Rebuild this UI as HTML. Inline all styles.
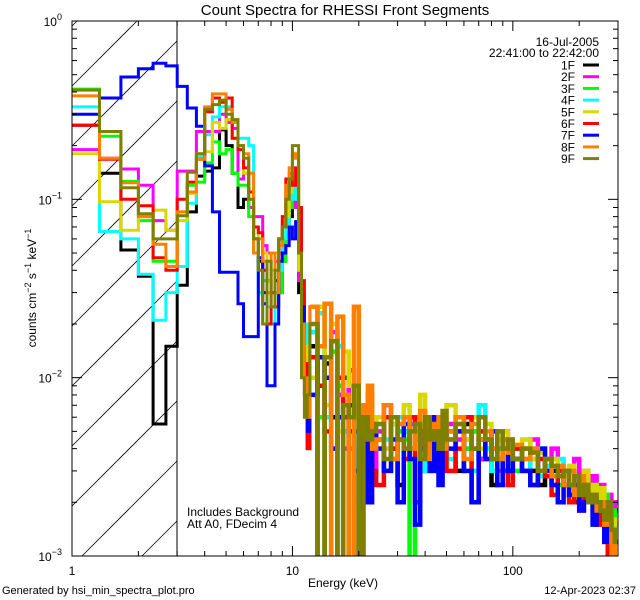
<!DOCTYPE html>
<html><head><meta charset="utf-8"><style>
html,body{margin:0;padding:0;background:#fff;overflow:hidden;width:640px;height:600px;}
svg{display:block;font-family:"Liberation Sans",sans-serif;}
</style></head><body>
<svg id="chart" width="640" height="600" viewBox="0 0 640 600" xmlns="http://www.w3.org/2000/svg">
<defs>
<clipPath id="plotclip"><rect x="72" y="21" width="546" height="535"/></clipPath>
</defs>
<rect width="640" height="600" fill="#fff"/>
<text x="345" y="15" font-size="15" text-anchor="middle">Count Spectra for RHESSI Front Segments</text>
<g id="hatch" stroke="#000" stroke-width="0.8"></g>
<line x1="177" y1="21" x2="177" y2="556" stroke="#000" stroke-width="1"/>
<g id="series" clip-path="url(#plotclip)"></g>
<g id="axes" stroke="#000" stroke-width="1"></g>
<g id="labels" font-size="12"></g>
<text transform="translate(36,288) rotate(-90)" font-size="12" text-anchor="middle">counts cm<tspan dy="-5" font-size="9">−2</tspan><tspan dy="5"> s</tspan><tspan dy="-5" font-size="9">−1</tspan><tspan dy="5"> keV</tspan><tspan dy="-5" font-size="9">−1</tspan></text>
<text x="343" y="587" font-size="12" text-anchor="middle">Energy (keV)</text>
<text x="187" y="516" font-size="12">Includes Background</text>
<text x="187" y="528" font-size="12">Att A0, FDecim 4</text>
<text x="2" y="594" font-size="11">Generated by hsi_min_spectra_plot.pro</text>
<text x="636" y="594" font-size="11" text-anchor="end">12-Apr-2023 02:37</text>
<text x="599" y="46" font-size="12" text-anchor="end">16-Jul-2005</text>
<text x="599" y="57" font-size="12" text-anchor="end">22:41:00 to 22:42:00</text>
<g id="legend" font-size="12"></g>
</svg>
<script>
// Values in units of 1e-4 counts cm^-2 s^-1 keV^-1
const seriesNames = ["1F","2F","3F","4F","5F","6F","7F","8F","9F"];
const seriesColors = ["#000000","#ff00ff","#00ff00","#00ffff","#d8d800","#ff0000","#0000ff","#ff8000","#808000"];
const lowStart = 1.0, lowStep = 1/3, lowEnd = 12;
const highEdgeGroups = [[12,24,1],[24,50,2],[50,100,5],[100,300,10]];
const s1 = [2600,1400,520,370,55,150,330,850,1350,1440,1500,2450,2000,1400,900,1000,900,600,450,300,350,300,350,300,450,600,800,1100,900,300,150,80,40,
 150,5,120,60,4,100,70,50,30,60,40,50,45,60,35,25,50,40,55,45,30,50,40,35,45,50,30,55,40,35,45,25,40,45,30,35,40,30,25,35,30,28,25,30,20,25,22,28,20,18,22,15,8,20,18];
const s2 = [1900,1700,1480,1200,760,670,1440,1440,2400,2400,2400,3000,2700,2500,1300,1400,900,800,800,550,500,500,450,500,700,900,1200,1000,900,350,300,200,60,
 250,150,60,180,80,40,110,60,70,40,80,30,50,70,40,60,35,55,45,50,40,60,45,50,40,55,45,40,50,35,45,40,30,50,35,40,35,45,30,35,40,28,30,25,35,22,30,25,28,20,25,18,22,15,20];
const s3 = [4150,2260,1260,760,450,450,850,1200,1250,1600,2100,1800,1900,1400,1200,1200,800,500,400,350,300,300,250,300,450,650,900,1300,1000,400,200,120,50,
 180,60,3,140,90,50,40,4,70,50,30,60,40,30,55,50,45,2,60,40,55,35,50,45,30,45,55,40,50,45,35,50,40,30,45,30,40,35,40,28,35,25,30,30,25,28,20,22,25,20,18,22,15,18,12];
const s4 = [3300,660,600,380,210,300,420,950,1730,2300,2900,3300,3300,2800,2200,2200,2000,600,300,200,250,200,300,400,700,600,1000,1200,1000,600,300,200,50,
 180,230,60,40,150,50,7,60,3,70,40,50,55,45,35,60,50,40,45,30,55,40,60,35,45,35,50,45,30,70,40,30,35,25,40,35,30,40,28,32,25,35,30,22,28,25,20,24,18,20,22,16,18,14,15];
const s5 = [1800,970,670,800,870,670,760,1080,1800,1850,2700,2500,2800,2200,1900,1400,1000,700,600,500,350,400,500,600,750,800,1100,1300,1200,400,200,150,70,
 100,250,70,200,50,140,90,60,50,40,80,45,60,40,55,45,70,50,55,80,40,60,50,45,55,70,50,45,60,40,55,35,45,50,40,40,45,35,38,30,35,30,28,32,25,28,30,22,25,20,24,18,20,16,15];
const s6 = [2600,1680,1000,920,470,400,1000,1250,1680,3100,3700,3500,3700,2200,1900,1500,1100,700,650,400,200,300,250,600,800,1300,1400,1200,1500,900,350,120,40,
 130,90,50,3,100,60,4,30,5,45,55,30,25,60,40,45,35,60,20,50,40,55,30,45,50,30,40,60,20,50,45,40,35,30,25,40,30,25,35,28,22,30,25,20,28,18,25,20,22,15,20,12,6,10,8];
const s7 = [3000,3700,4850,5400,5800,5600,4300,3250,2570,1540,850,390,390,390,260,170,170,170,470,260,90,90,200,450,500,550,700,600,750,500,250,100,50,
 80,130,100,40,60,70,50,30,20,60,20,50,40,30,45,20,55,35,15,40,50,30,60,25,45,40,50,30,20,45,35,50,25,40,30,35,30,25,40,30,25,20,30,22,25,18,20,22,15,18,20,12,15,10,6];
const s8 = [3800,1700,1240,800,560,420,850,1100,1680,3300,3900,3900,3200,2700,2000,1800,1400,500,600,450,300,500,300,550,700,1200,1500,1800,1700,500,200,100,60,
 250,150,260,5,220,80,4,250,70,50,90,40,45,70,35,55,60,40,50,65,35,55,45,60,40,50,60,35,55,45,50,40,35,45,38,42,35,40,30,35,28,32,25,30,22,28,25,20,22,18,20,15,18,5,12];
const s9 = [4100,2400,1160,830,600,600,810,1420,1800,3200,3400,3600,3000,2800,2000,1700,1000,600,400,200,450,250,400,600,700,1000,1300,2000,2000,500,100,60,80,
 200,6,130,160,4,70,60,90,4,60,45,50,55,35,60,45,40,50,55,35,60,45,50,40,65,45,55,50,40,60,45,35,50,40,45,35,40,38,30,35,32,28,30,25,28,22,25,20,22,20,18,16,20,14,12];
const seriesValues = [s1,s2,s3,s4,s5,s6,s7,s8,s9];
const valueScale = 1e-4;
const xTickLabels = ["1","10","100"];
const yTickExps = ["0","−1","−2","−3"];

const X0=72,X1=618,Y0=21,Y1=556, xmin=1,xmax=300, ymin=1e-3,ymax=1;
function xs(e){return X0+(Math.log10(e)-Math.log10(xmin))/(Math.log10(xmax)-Math.log10(xmin))*(X1-X0);}
function ys(v){v=Math.max(v,1e-4);return Y0+(Math.log10(ymax)-Math.log10(v))/(Math.log10(ymax)-Math.log10(ymin))*(Y1-Y0);}
const NS="http://www.w3.org/2000/svg";
function mk(t,a,p){const e=document.createElementNS(NS,t);for(const k in a)e.setAttribute(k,a[k]);p.appendChild(e);return e;}

const edges=[];
for(let i=0;lowStart+i*lowStep<lowEnd-1e-6;i++)edges.push(lowStart+i*lowStep);
const nLow=edges.length;
for(const g of highEdgeGroups){for(let e=g[0];e<g[1]-1e-6;e+=g[2])edges.push(e);}
edges.push(300);

// hatching: 45° lines clipped analytically to x 72..177, y 21..556
const hg=document.getElementById('hatch');
const HX1=177;
for(let k=-2;k<12;k++){
  const c=Y1+10-k*60; // line: y = c - (x - X0)
  let xa=X0, ya=c;
  if(ya>Y1){xa=X0+(ya-Y1);ya=Y1;}
  let xb=HX1, yb=c-(HX1-X0);
  if(yb<Y0){xb=X0+(c-Y0);yb=Y0;}
  if(xa>=xb||xa>HX1||xb<X0)continue;
  const ln=mk('line',{x1:xa,y1:ya,x2:xb,y2:yb},hg);
  
  
}

const sg=document.getElementById('series');
function stepPath(vals,i0,i1){
  let d='';
  for(let i=i0;i<i1;i++){
    const y=Math.min(ys(vals[i]*valueScale),Y1+2).toFixed(1);
    const xa=xs(edges[i]).toFixed(1), xb=xs(edges[i+1]).toFixed(1);
    d+=(i===i0?'M':'L')+xa+','+y+'L'+xb+','+y;
  }
  return d;
}
seriesValues.forEach((vals,si)=>{
  const n=Math.min(vals.length,edges.length-1);
  const p=mk('path',{d:stepPath(vals,0,Math.min(nLow+1,n)),fill:'none',stroke:seriesColors[si],'stroke-width':3},sg);
  
  
  const q=mk('path',{d:stepPath(vals,nLow,n),fill:'none',stroke:seriesColors[si],'stroke-width':4.5},sg);
  
  
});

const ag=document.getElementById('axes');
const frame=mk('rect',{x:X0,y:Y0,width:X1-X0,height:Y1-Y0,fill:'none'},ag);


const lg=document.getElementById('labels');
for(let dec=0;dec<3;dec++){
  for(let m=1;m<10;m++){
    const e=m*Math.pow(10,dec); if(e>xmax)break;
    const x=xs(e), L=(m===1)?10:5;
    const t1=mk('line',{x1:x,y1:Y1,x2:x,y2:Y1-L},ag);
    
    
    const t2=mk('line',{x1:x,y1:Y0,x2:x,y2:Y0+L},ag);
    
    
  }
  const tl=mk('text',{x:xs(Math.pow(10,dec)),y:575,'text-anchor':'middle'},lg);
  tl.textContent=xTickLabels[dec];
  
  
}
for(let dec=-3;dec<=0;dec++){
  for(let m=1;m<10;m++){
    const v=m*Math.pow(10,dec); if(v>ymax+1e-9)break;
    const y=ys(v), L=(m===1)?10:5;
    const t1=mk('line',{x1:X0,y1:y,x2:X0+L,y2:y},ag);
    
    
    const t2=mk('line',{x1:X1,y1:y,x2:X1-L,y2:y},ag);
    
    
  }
  const tl=mk('text',{x:62,y:ys(Math.pow(10,dec))+5,'text-anchor':'end'},lg);
  
  
  const b=document.createElementNS(NS,'tspan');b.textContent='10';tl.appendChild(b);
  const s=document.createElementNS(NS,'tspan');s.setAttribute('dy','-6');s.setAttribute('font-size','9');
  s.textContent=yTickExps[-dec];tl.appendChild(s);
}

const leg=document.getElementById('legend');
seriesNames.forEach((nm,i)=>{
  const yc=65+i*11.7;
  const t=mk('text',{x:575,y:yc+4.5,'text-anchor':'end'},leg);
  t.textContent=nm;
  
  
  const l=mk('line',{x1:583,y1:yc,x2:599,y2:yc,stroke:seriesColors[i],'stroke-width':3},leg);
  
  
});
</script>
</body></html>
